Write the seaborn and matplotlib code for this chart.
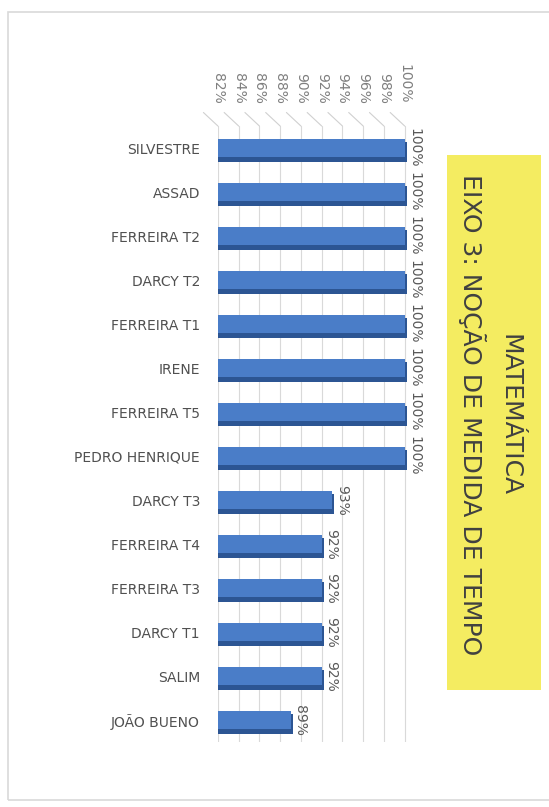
import matplotlib
matplotlib.use("Agg")
import matplotlib.pyplot as plt
import matplotlib.transforms as mtransforms
from matplotlib.patches import Rectangle
import seaborn as sns
import pandas as pd

# data
escolas = ["SILVESTRE", "ASSAD", "FERREIRA T2", "DARCY T2", "FERREIRA T1", "IRENE",
           "FERREIRA T5", "PEDRO HENRIQUE", "DARCY T3", "FERREIRA T4", "FERREIRA T3",
           "DARCY T1", "SALIM", "JOÃO BUENO"]
acertos = [100, 100, 100, 100, 100, 100, 100, 100, 93, 92, 92, 92, 92, 89]
ticks = [82, 84, 86, 88, 90, 92, 94, 96, 98, 100]
titulo = "MATEMÁTICA\nEIXO 3: NOÇÃO DE MEDIDA DE TEMPO"

df = pd.DataFrame({"escola": escolas, "acerto": acertos})

sns.set_style("white")
plt.rcParams["font.family"] = ["DejaVu Sans"]

fig = plt.figure(figsize=(5.49, 8.07), dpi=100)
ax = fig.add_axes([0.397, 0.0805, 0.344, 0.7633])

### outer frame and yellow title box
fig.patches.append(Rectangle((8 / 549, 1 - 800 / 807), 1.2, (800 - 12) / 807,
                             transform=fig.transFigure, fill=False,
                             edgecolor="#d9d9d9", linewidth=1.2))
fig.patches.append(Rectangle((447 / 549, 1 - 690 / 807), 94 / 549, 535 / 807,
                             transform=fig.transFigure, facecolor="#f4ec61",
                             edgecolor="none"))

### darker bars behind give the 3D look
sns.barplot(data=df, y="escola", x="acerto", orient="h", color="#2c5593",
            width=0.46, saturation=1, linewidth=0, ax=ax)
n_dark = len(ax.patches)
shift = mtransforms.ScaledTranslation(1.5 / 72, -3 / 72, fig.dpi_scale_trans)
for p in ax.patches[:n_dark]:
    p.set_transform(ax.transData + shift)
sns.barplot(data=df, y="escola", x="acerto", orient="h", color="#4a7dc8",
            width=0.42, saturation=1, linewidth=0, ax=ax)

ax.set_xlim(82, 100.2)
ax.set_ylim(len(escolas) - 0.5, -0.5)
ax.set_xticks(ticks)
ax.set_xticklabels([f"{t}%" for t in ticks], rotation=-90, fontsize=10, color="#7f7f7f")
ax.xaxis.tick_top()
ax.tick_params(axis="x", length=0, pad=16)
ax.tick_params(axis="y", length=0, pad=13, labelsize=10, labelcolor="#505050")
ax.set_xlabel("")
ax.set_ylabel("")
ax.grid(axis="x", color="#d9d9d9", linewidth=0.8)
ax.set_axisbelow(True)
for s in ax.spines.values():
    s.set_visible(False)

### slanted floor lines on top of the grid (3D perspective)
for t in ticks:
    ax.plot([t - 1.4, t], [1.022, 1.0], transform=ax.get_xaxis_transform(),
            color="#d0d0d0", linewidth=0.8, clip_on=False)

### value labels
for i, v in enumerate(acertos):
    ax.text(v + 0.25, i, f"{v}%", rotation=-90, ha="left", va="center",
            fontsize=10, color="#595959")

fig.text(490 / 549, 1 - 415 / 807, titulo, rotation=-90, ha="center", va="center",
         multialignment="center", fontsize=18, color="#404040", linespacing=1.5)

fig.savefig("out.png", dpi=100)
